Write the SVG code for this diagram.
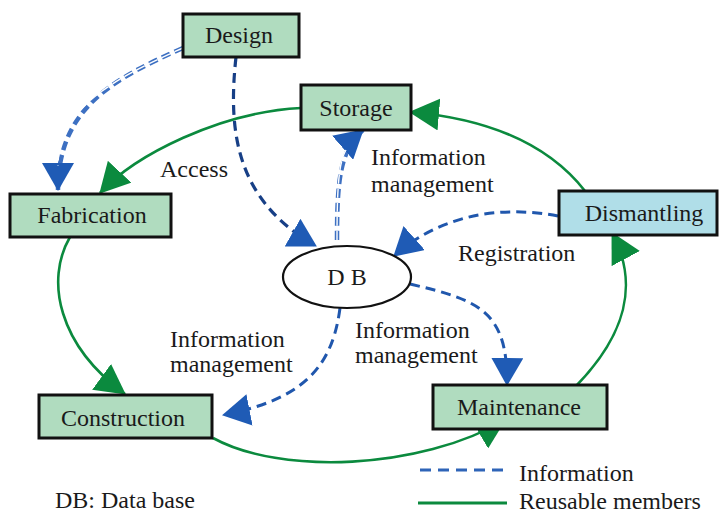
<svg xmlns="http://www.w3.org/2000/svg" width="719" height="513" viewBox="0 0 719 513" font-family="'Liberation Serif','Times New Roman',serif">
<defs>
<style>
text{font-family:"Liberation Serif","Times New Roman",serif;font-size:24px;fill:#1a1a1a}
.lbl{text-anchor:middle}
.box{stroke:#111;stroke-width:3}
.g{fill:#b0dcbf}
.b{fill:#b0dee8}
.green{fill:none;stroke:#0b8a3e;stroke-width:2.6}
.navy{fill:none;stroke:#173f86;stroke-width:3.2;stroke-dasharray:10 6}
.blue{fill:none;stroke:#2057ad;stroke-width:3;stroke-dasharray:10 6}
.hollow{fill:none;stroke:#3d70c2;stroke-width:4.5;stroke-dasharray:9 5}
.hollowin{fill:none;stroke:#fff;stroke-width:1.4;stroke-dasharray:9 5}
</style>
<marker id="ag" markerUnits="userSpaceOnUse" viewBox="0 0 30 32" markerWidth="30" markerHeight="32" refX="29" refY="16" orient="auto">
<path d="M0,0 L30,16 L0,32 Z" fill="#0b8a3e"/>
</marker>
<marker id="ab" markerUnits="userSpaceOnUse" viewBox="0 0 28 32" markerWidth="28" markerHeight="32" refX="27" refY="16" orient="auto">
<path d="M0,0 L28,16 L0,32 Z" fill="#1f5bb5"/>
</marker>
</defs>
<rect width="719" height="513" fill="#fff"/>
<g id="connectors">
<path class="green" d="M301,108 C220,112 135,155 100,193" marker-end="url(#ag)"/>
<path class="green" d="M585,191 C545,140 480,118 410,112" marker-end="url(#ag)"/>
<path class="green" d="M577,385 C625,335 640,285 612,233" marker-end="url(#ag)"/>
<path class="green" d="M70,237 C45,280 58,345 125,394" marker-end="url(#ag)"/>
<path class="green" d="M213,438 C280,475 420,470 505,420" marker-end="url(#ag)"/>
<path class="hollow" d="M183,48 C110,80 58,110 58,190" marker-end="url(#ab)"/>
<path class="hollowin" d="M183,48 C110,80 58,110 58,166"/>
<path class="navy" d="M236,57 C228,130 235,200 316,246" marker-end="url(#ab)"/>
<path class="hollow" d="M337,240 C337,180 340,150 363,130" marker-end="url(#ab)"/>
<path class="hollowin" d="M337,240 C337,185 339,162 346,150"/>
<path class="blue" d="M558,216 C500,205 440,215 394,256" marker-end="url(#ab)"/>
<path class="blue" d="M410,284 C478,300 508,310 507,385" marker-end="url(#ab)"/>
<path class="blue" d="M340,308 C332,370 300,400 223,415" marker-end="url(#ab)"/>
</g>
<g id="design"><rect class="box g" x="183" y="14" width="116" height="43"/><text class="lbl" x="239" y="43">Design</text></g>
<g id="storage"><rect class="box g" x="301" y="85" width="110" height="45"/><text class="lbl" x="356" y="116">Storage</text></g>
<g id="fabrication"><rect class="box g" x="10" y="194" width="161" height="43"/><text class="lbl" x="92" y="223">Fabrication</text></g>
<g id="construction"><rect class="box g" x="39" y="395" width="173" height="43"/><text class="lbl" x="123" y="426">Construction</text></g>
<g id="dismantling"><rect class="box b" x="559" y="191" width="158" height="44"/><text class="lbl" x="644" y="221">Dismantling</text></g>
<g id="maintenance"><rect class="box g" x="433" y="385" width="174" height="44"/><text class="lbl" x="519" y="415">Maintenance</text></g>
<g id="db"><ellipse cx="347" cy="277" rx="64" ry="31" fill="#fff" stroke="#111" stroke-width="2.2"/><text class="lbl" x="347" y="285">D B</text></g>
<g id="labels">
<text x="160" y="177">Access</text>
<text x="371" y="165">Information</text>
<text x="371" y="192">management</text>
<text x="458" y="261">Registration</text>
<text x="170" y="347">Information</text>
<text x="170" y="372">management</text>
<text x="355" y="338">Information</text>
<text x="355" y="363">management</text>
</g>
<g id="legend">
<line x1="420" y1="470" x2="510" y2="470" stroke="#2e64b8" stroke-width="3" stroke-dasharray="11 7"/>
<text x="519" y="481">Information</text>
<line x1="418" y1="503" x2="507" y2="503" stroke="#0b8a3e" stroke-width="3"/>
<text x="519" y="509">Reusable members</text>
<text x="55" y="508">DB: Data base</text>
</g>
</svg>
